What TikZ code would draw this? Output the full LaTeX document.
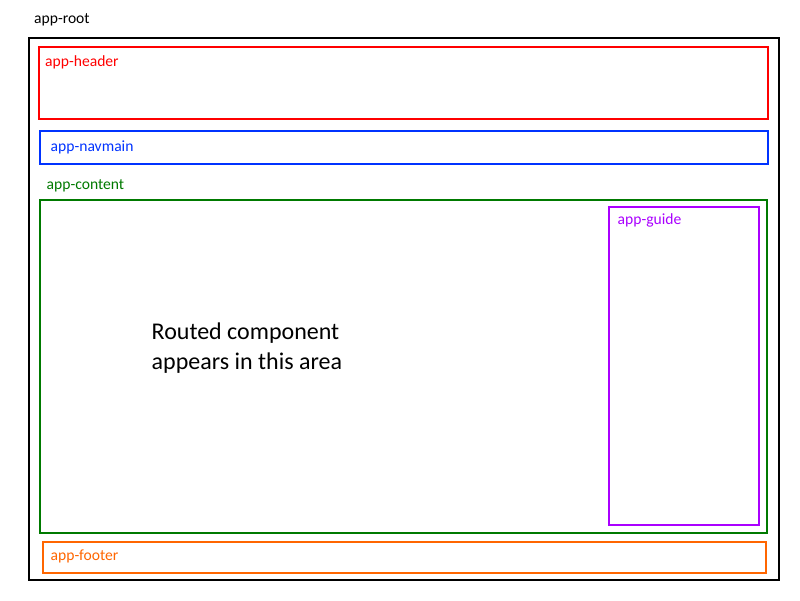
\documentclass[tikz,border=0pt]{standalone}
\usepackage{fontspec}
\setmainfont{Carlito}
\definecolor{hdr}{HTML}{FF0000}
\definecolor{nav}{HTML}{0033FF}
\definecolor{cnt}{HTML}{007A00}
\definecolor{gde}{HTML}{AA00FF}
\definecolor{ftr}{HTML}{FF6600}
\begin{document}
\begin{tikzpicture}[x=1pt,y=-1pt,
  box/.style={line width=2pt},
  lbl/.style={anchor=base west,inner sep=0pt,font=\fontsize{15.6}{18}\selectfont}]
\useasboundingbox[fill=white] (0,0) rectangle (800,600);
\draw[box,black] (29,38) rectangle (779,580);
\node[lbl] (lroot) at (34,23.3) {app-root};
\draw[box,hdr] (38.5,47) rectangle (768,119);
\node[lbl,text=hdr] (lhdr) at (45,66.7) {app-header};
\draw[box,nav] (40,130.5) rectangle (767.5,164);
\node[lbl,text=nav] (lnav) at (50.5,151) {app-navmain};
\node[lbl,text=cnt] (lcnt) at (46.5,189) {app-content};
\draw[box,cnt] (40,200) rectangle (767,532.5);
\draw[box,gde] (609,207) rectangle (759,524.5);
\node[lbl,text=gde] (lgde) at (617.5,224.3) {app-guide};
\draw[box,ftr] (42.5,541.5) rectangle (766,573);
\node[lbl,text=ftr] (lftr) at (50.5,560) {app-footer};
\node[anchor=base west,inner sep=0pt,font=\fontsize{24}{29.3}\selectfont,align=left] (main) at (151.5,369) {Routed component\\appears in this area};
\end{tikzpicture}
\end{document}
